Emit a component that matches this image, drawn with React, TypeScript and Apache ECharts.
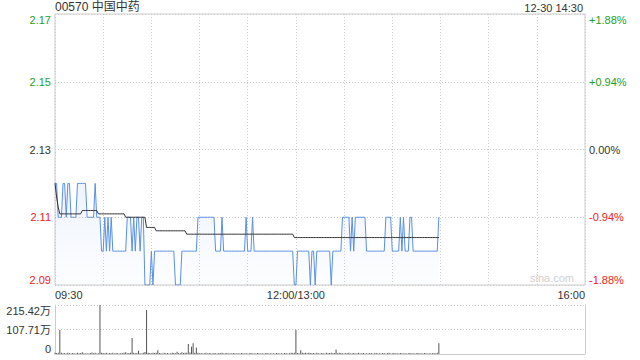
import React, { useEffect, useRef } from 'react';
import * as echarts from 'echarts';

const TITLE = '00570 中国中药';
const DATE_LABEL = '12-30 14:30';
const WATERMARK = 'sina.com';
const PREV_CLOSE = 2.13;
const PRICE_MIN = 2.09;
const PRICE_MAX = 2.17;
const PRICE_STEP = 0.02;
const VOL_MAX = 215.42;
const VOL_STEP = 107.71;
const TIME_TICK_MINUTES = [0, 150, 330];
const TIME_TICK_LABELS = ['09:30', '12:00/13:00', '16:00'];

// minute-by-minute last price, as [price, number of consecutive minutes]
const priceRuns: [number, number][] = [
  [2.12, 2], [2.11, 3], [2.12, 2], [2.11, 1], [2.12, 2], [2.11, 4], [2.12, 6], [2.11, 5],
  [2.12, 1], [2.11, 3], [2.10, 2], [2.11, 1], [2.10, 1], [2.11, 1], [2.10, 1], [2.11, 1],
  [2.10, 9], [2.11, 3], [2.10, 1], [2.11, 1], [2.10, 1], [2.11, 2], [2.10, 1], [2.11, 2],
  [2.09, 4], [2.10, 1], [2.09, 1], [2.10, 13], [2.09, 4], [2.10, 10], [2.11, 11], [2.10, 4],
  [2.11, 1], [2.10, 14], [2.11, 1], [2.10, 3], [2.11, 1], [2.10, 25], [2.09, 2], [2.10, 8],
  [2.09, 1], [2.10, 2], [2.09, 1], [2.10, 9], [2.09, 1], [2.10, 6], [2.11, 5], [2.10, 1],
  [2.11, 1], [2.10, 1], [2.11, 7], [2.10, 12], [2.11, 4], [2.10, 5], [2.11, 1], [2.10, 1],
  [2.11, 1], [2.10, 3], [2.11, 2], [2.10, 16], [2.11, 1],
];

// average price line, as [price, number of consecutive minutes]
const avgRuns: [number, number][] = [
  [2.12, 1], [2.116, 1], [2.113, 1], [2.111, 14], [2.112, 10], [2.111, 17], [2.110, 13],
  [2.107, 6], [2.106, 19], [2.105, 67], [2.104, 91],
];

// volume per minute, in 万
const volumes: number[] = [
  6, 4, 5, 105, 6, 3, 4, 2, 5, 3, 2, 4, 3, 2, 5, 3, 4, 8, 3, 2,
  3, 2, 4, 7, 3, 6, 2, 3, 215.42, 5, 4, 3, 6, 2, 4, 3, 5, 2, 4, 3,
  2, 4, 3, 5, 8, 3, 4, 6, 70, 5, 3, 4, 14, 3, 2, 5, 9, 193, 6, 4,
  3, 5, 4, 6, 17, 4, 3, 2, 5, 3, 4, 2, 3, 5, 4, 3, 10, 4, 3, 8,
  4, 6, 5, 44, 7, 32, 47, 6, 29, 5, 3, 4, 2, 3, 5, 2, 4, 3, 2, 4,
  3, 2, 4, 3, 5, 2, 3, 4, 2, 3, 2, 4, 3, 2, 3, 2, 4, 3, 2, 3,
  2, 3, 4, 2, 3, 2, 4, 3, 2, 3, 2, 3, 4, 2, 3, 2, 3, 2, 4, 3,
  2, 3, 2, 4, 3, 2, 3, 5, 4, 6, 107, 4, 3, 17, 5, 4, 6, 3, 5, 4,
  3, 4, 2, 5, 3, 2, 4, 3, 2, 5, 3, 4, 6, 3, 4, 20, 3, 5, 4, 3,
  2, 4, 3, 5, 2, 3, 4, 2, 3, 5, 2, 3, 4, 2, 3, 2, 4, 3, 2, 3,
  4, 2, 3, 2, 4, 3, 2, 3, 5, 2, 3, 4, 2, 3, 2, 4, 3, 2, 3, 2,
  3, 4, 2, 3, 2, 3, 4, 2, 3, 2, 4, 3, 2, 3, 2, 3, 4, 2, 5, 47,
];

function expandRuns(runs: [number, number][]): number[] {
  const out: number[] = [];
  runs.forEach(([v, n]) => {
    for (let k = 0; k < n; k++) out.push(v);
  });
  return out;
}

const FONT = '"Liberation Sans", Arial, "Noto Sans CJK SC", sans-serif';
const GREEN = '#1ea01e';
const RED = '#ee2222';
const DARK = '#333';
const GRID_LINE = '#cccccc';

export default function App() {
  const ref = useRef<HTMLDivElement>(null);

  useEffect(() => {
    if (!ref.current) return;
    const chart = echarts.init(ref.current, undefined, { renderer: 'svg' });
    const prices = expandRuns(priceRuns);
    const avgs = expandRuns(avgRuns);
    const priceData = prices.map((v, i) => [i, v]);
    const avgData = avgs.map((v, i) => [i, v]);
    const volData = volumes.map((v, i) => [i, v]);

    const priceColor = (val: any) => {
      const v = Number(val);
      if (Math.abs(v - PREV_CLOSE) < 1e-6) return DARK;
      return v > PREV_CLOSE ? GREEN : RED;
    };

    const option: any = {
      animation: false,
      textStyle: { fontFamily: FONT },
      grid: [
        { left: 55, top: 14, width: 530, height: 271, show: true, borderColor: GRID_LINE, borderWidth: 1 },
        { left: 55, top: 305, width: 530, height: 49, show: false },
      ],
      xAxis: [
        {
          type: 'value', gridIndex: 0, min: 0, max: 330, interval: 30,
          axisLine: { show: false }, axisTick: { show: false },
          splitLine: { show: true, lineStyle: { color: GRID_LINE, type: [1, 2] } },
          axisLabel: {
            margin: 4, fontSize: 11, color: DARK, fontFamily: FONT,
            alignMinLabel: 'left', alignMaxLabel: 'right',
            formatter: (v: number) => {
              const idx = TIME_TICK_MINUTES.indexOf(Math.round(v));
              return idx >= 0 ? TIME_TICK_LABELS[idx] : '';
            },
          },
        },
        {
          type: 'value', gridIndex: 1, min: 0, max: 330, interval: 30,
          axisLine: { show: true, lineStyle: { color: GRID_LINE } },
          axisTick: { show: false }, axisLabel: { show: false }, splitLine: { show: false },
        },
      ],
      yAxis: [
        {
          type: 'value', gridIndex: 0, min: PRICE_MIN, max: PRICE_MAX, interval: PRICE_STEP,
          axisLine: { show: false }, axisTick: { show: false },
          splitLine: { show: true, lineStyle: { color: GRID_LINE, type: [1, 2] } },
          axisLabel: {
            margin: 4, fontSize: 11, fontFamily: FONT,
            color: priceColor,
            verticalAlignMinLabel: 'bottom', verticalAlignMaxLabel: 'top',
            formatter: (v: number) => v.toFixed(2),
          },
        },
        {
          type: 'value', gridIndex: 0, position: 'right', min: PRICE_MIN, max: PRICE_MAX, interval: PRICE_STEP,
          axisLine: { show: false }, axisTick: { show: false }, splitLine: { show: false },
          axisLabel: {
            margin: 4, fontSize: 11, fontFamily: FONT,
            color: priceColor,
            verticalAlignMinLabel: 'bottom', verticalAlignMaxLabel: 'top',
            formatter: (v: number) => {
              const p = ((v - PREV_CLOSE) / PREV_CLOSE) * 100;
              const s = Math.abs(p).toFixed(2);
              if (Math.abs(p) < 0.005) return '0.00%';
              return (p > 0 ? '+' : '-') + s + '%';
            },
          },
        },
        {
          type: 'value', gridIndex: 1, min: 0, max: VOL_MAX, interval: VOL_STEP,
          axisLine: { show: true, lineStyle: { color: GRID_LINE } }, axisTick: { show: false },
          splitLine: { show: true, lineStyle: { color: GRID_LINE, type: [1, 2] } },
          axisLabel: {
            margin: 4, fontSize: 11, color: DARK, fontFamily: FONT,
            verticalAlignMinLabel: 'bottom', verticalAlignMaxLabel: 'top',
            formatter: (v: number) => (v === 0 ? '0' : v.toFixed(2) + '万'),
          },
        },
        {
          type: 'value', gridIndex: 1, position: 'right', min: 0, max: VOL_MAX, interval: VOL_STEP,
          axisLine: { show: true, lineStyle: { color: GRID_LINE } }, axisTick: { show: false },
          splitLine: { show: false }, axisLabel: { show: false },
        },
      ],
      series: [
        {
          type: 'line', xAxisIndex: 0, yAxisIndex: 0, data: priceData,
          showSymbol: false, symbol: 'none',
          lineStyle: { color: '#5a8fe8', width: 1 },
          areaStyle: {
            color: new echarts.graphic.LinearGradient(0, 0, 0, 1, [
              { offset: 0, color: 'rgba(90,143,232,0.14)' },
              { offset: 1, color: 'rgba(90,143,232,0.02)' },
            ]),
          },
          z: 3,
        },
        {
          type: 'line', xAxisIndex: 0, yAxisIndex: 0, data: avgData,
          showSymbol: false, symbol: 'none',
          lineStyle: { color: '#333', width: 1 },
          z: 4,
        },
        {
          type: 'bar', xAxisIndex: 1, yAxisIndex: 2, data: volData,
          barWidth: 1, itemStyle: { color: '#555' },
        },
      ],
      graphic: [
        {
          type: 'text', left: 55, top: 1,
          style: { text: TITLE, fill: DARK, font: `12px ${FONT}` },
        },
        {
          type: 'text', right: 57, top: 2,
          style: { text: DATE_LABEL, fill: DARK, font: `11px ${FONT}` },
        },
        {
          type: 'text', right: 66, top: 272,
          style: { text: WATERMARK, fill: '#cfcfcf', font: `11px ${FONT}` },
        },
      ],
    };
    chart.setOption(option);
    return () => chart.dispose();
  }, []);

  return (
    <div
      ref={ref}
      style={{ position: 'fixed', left: 0, top: 0, width: 640, height: 360, background: '#fff' }}
    />
  );
}
